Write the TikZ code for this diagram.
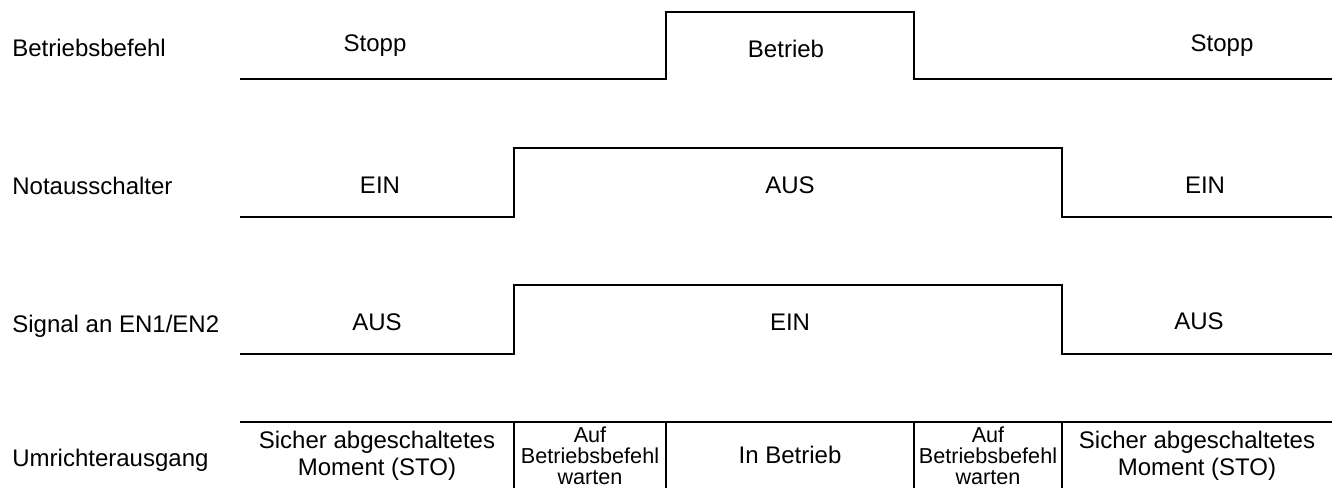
\documentclass[tikz,border=0pt]{standalone}
\usepackage{fontspec}
\setmainfont{Liberation Sans}
\usetikzlibrary{positioning}

\tikzset{
	sig/.style={line width=1.1pt, line join=miter},
	lbl/.style={anchor=base west, inner sep=0pt, font=\fontsize{13.66}{15.4}\selectfont},
	state/.style={anchor=base, inner sep=0pt, font=\fontsize{13.66}{15.4}\selectfont},
	cell/.style={align=center, inner sep=0pt, font=\fontsize{13.66}{15.4}\selectfont},
	smallcell/.style={align=center, inner sep=0pt, font=\fontsize{12.3}{11.8}\selectfont}
}

\begin{document}
\begin{tikzpicture}
				\useasboundingbox (0,0) rectangle (26.64,9.76);
				\node[lbl] (befehl) at (0.24,8.62) {Betriebsbefehl};
				\node[lbl] (notaus) at (0.24,5.86) {Notausschalter};
				\node[lbl] (signal) at (0.24,3.10) {Signal an EN1/EN2};
				\node[lbl] (ausgang) at (0.24,0.42) {Umrichterausgang};
				\draw[sig] (4.8,8.18) -- (13.32,8.18) -- (13.32,9.52) -- (18.28,9.52) -- (18.28,8.18) -- (26.64,8.18);
				\node[state] (stoppa) at (7.50,8.72) {Stopp};
				\node[state] (betrieb) at (15.72,8.60) {Betrieb};
				\node[state] (stoppb) at (24.44,8.72) {Stopp};
				\draw[sig] (4.8,5.42) -- (10.28,5.42) -- (10.28,6.80) -- (21.24,6.80) -- (21.24,5.42) -- (26.64,5.42);
				\node[state] (eina) at (7.60,5.88) {EIN};
				\node[state] (ausa) at (15.80,5.88) {AUS};
				\node[state] (einb) at (24.10,5.88) {EIN};
				\draw[sig] (4.8,2.68) -- (10.28,2.68) -- (10.28,4.06) -- (21.24,4.06) -- (21.24,2.68) -- (26.64,2.68);
				\node[state] (ausb) at (7.54,3.14) {AUS};
				\node[state] (einc) at (15.80,3.14) {EIN};
				\node[state] (ausc) at (23.98,3.16) {AUS};
				\draw[sig] (4.8,1.32) -- (26.64,1.32);
				\foreach \x in {10.28,13.32,18.28,21.24}
					\draw[sig] (\x,1.32) -- (\x,0);
				\node[cell] (stoa) at (7.54,0.64) {Sicher abgeschaltetes\\Moment (STO)};
				\node[smallcell] (warta) at (11.80,0.64) {Auf\\Betriebsbefehl\\warten};
				\node[cell] (inbetrieb) at (15.80,0.66) {In Betrieb};
				\node[smallcell] (wartb) at (19.76,0.64) {Auf\\Betriebsbefehl\\warten};
				\node[cell] (stob) at (23.94,0.64) {Sicher abgeschaltetes\\Moment (STO)};
			\end{tikzpicture}
\end{document}
